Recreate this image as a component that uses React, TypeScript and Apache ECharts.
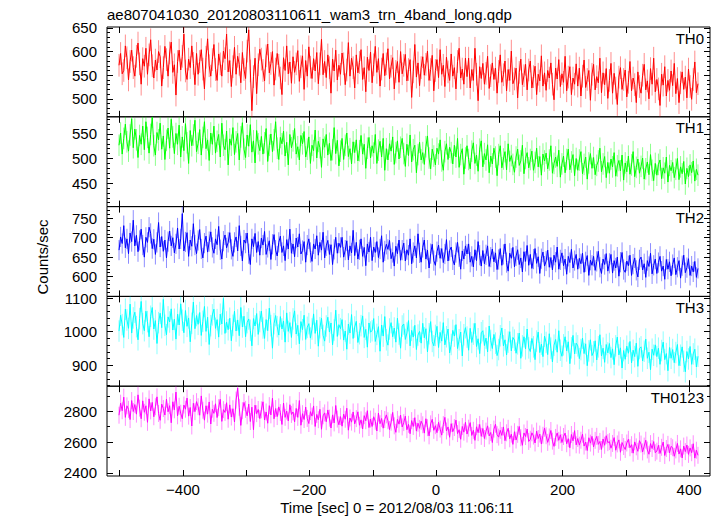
import React, { useEffect, useRef } from "react";
import * as echarts from "echarts";

const TITLE = "ae807041030_20120803110611_wam3_trn_4band_long.qdp";
const X_TITLE = "Time [sec] 0 = 2012/08/03 11:06:11";
const Y_TITLE = "Counts/sec";
const TIME_START = -501;
const TIME_BIN = 2.5;
const X_RANGE = [-520, 433];
const X_LABELS = [-400, -200, 0, 200, 400];
const X_TICKS = [-500, -400, -300, -200, -100, 0, 100, 200, 300, 400];

const BANDS = ["TH0", "TH1", "TH2", "TH3", "TH0123"];
const COLORS = ["#ff0000", "#00ff00", "#0000ff", "#00ffff", "#ff00ff"];
const ERRORS = [24, 22, 26, 32, 55];
const Y_RANGES = [[462, 652], [402, 585], [549, 780], [838, 1105], [2380, 2962]];
const Y_LABELS = [[500, 550, 600, 650], [450, 500, 550], [600, 650, 700, 750], [900, 1000, 1100], [2400, 2600, 2800]];
const Y_MINOR_STEPS = [10, 10, 10, 20, 100];

const th0 = [
  571, 596, 553, 560, 612, 587, 540, 579, 603, 566,
  548, 590, 618, 574, 531, 585, 569, 607, 552, 593,
  625, 570, 544, 582, 561, 600, 589, 527, 566, 611,
  583, 548, 597, 620, 556, 572, 508, 579, 603, 561,
  590, 637, 559, 541, 584, 566, 612, 575, 530, 596,
  552, 579, 604, 563, 521, 588, 627, 570, 548, 583,
  615, 562, 539, 595, 574, 548, 601, 585, 637, 557,
  581, 526, 568, 609, 552, 590, 573, 534, 598, 562,
  543, 601, 646, 559, 475, 547, 586, 511, 572, 605,
  584, 560, 538, 591, 616, 555, 575, 600, 529, 563,
  596, 571, 544, 509, 587, 560, 612, 553, 578, 533,
  589, 556, 574, 602, 537, 568, 591, 520, 581, 548,
  610, 567, 543, 585, 559, 598, 532, 574, 626, 551,
  579, 545, 593, 566, 512, 584, 559, 603, 540, 571,
  552, 597, 574, 530, 561, 619, 548, 586, 566, 523,
  593, 555, 577, 604, 541, 566, 515, 588, 560, 599,
  534, 572, 611, 556, 585, 527, 563, 596, 549, 574,
  606, 542, 569, 587, 521, 558, 579, 535, 600, 553,
  571, 594, 538, 562, 583, 503, 557, 615, 546, 576,
  528, 566, 589, 550, 573, 601, 539, 562, 592, 517,
  560, 583, 545, 604, 552, 571, 526, 588, 557, 539,
  595, 548, 566, 521, 579, 607, 544, 563, 531, 586,
  547, 586, 523, 562, 539, 607, 552, 496, 568, 543,
  575, 531, 554, 590, 522, 549, 576, 541, 565, 512,
  558, 593, 535, 551, 580, 517, 562, 539, 601, 532,
  542, 565, 502, 556, 584, 530, 549, 573, 519, 561,
  580, 523, 547, 569, 509, 552, 538, 591, 527, 555,
  518, 560, 544, 576, 531, 498, 565, 542, 583, 526,
  553, 535, 590, 517, 546, 568, 509, 544, 531, 574,
  527, 565, 506, 548, 582, 524, 541, 560, 497, 552,
  573, 519, 547, 534, 586, 513, 555, 530, 564, 501,
  539, 575, 512, 554, 523, 488, 546, 566, 520, 541,
  561, 504, 535, 579, 517, 544, 530, 492, 557, 526,
  512, 550, 573, 519, 538, 500, 564, 531, 586, 515,
  541, 521, 486, 552, 529, 568, 506, 539, 518, 559,
  528, 575, 511, 543, 492, 534, 557, 520, 546, 502,
  563, 526, 499, 541, 578, 513, 532,
];

const th1 = [
  527, 552, 509, 541, 570, 534, 515, 548, 581, 522,
  560, 538, 502, 547, 529, 566, 518, 575, 543, 511,
  549, 584, 526, 507, 553, 538, 572, 519, 546, 498,
  537, 562, 521, 580, 544, 510, 551, 529, 568, 503,
  544, 516, 571, 532, 490, 557, 526, 548, 578, 514,
  531, 559, 507, 543, 575, 520, 538, 496, 552, 529,
  566, 511, 535, 549, 503, 572, 527, 518, 556, 487,
  540, 527, 563, 508, 534, 551, 497, 544, 573, 519,
  502, 548, 525, 569, 513, 536, 491, 557, 530, 516,
  545, 509, 532, 561, 494, 527, 550, 514, 538, 575,
  521, 498, 543, 530, 556, 505, 533, 487, 549, 522,
  536, 561, 509, 524, 497, 547, 530, 555, 503, 519,
  544, 490, 527, 516, 558, 501, 535, 522, 482, 540,
  523, 549, 507, 531, 496, 518, 563, 510, 537, 485,
  515, 541, 498, 527, 552, 504, 520, 489, 534, 512,
  538, 495, 516, 547, 509, 529, 480, 521, 543, 501,
  526, 511, 549, 490, 517, 535, 503, 541, 476, 520,
  497, 530, 515, 544, 488, 512, 536, 499, 523, 541,
  510, 484, 529, 506, 548, 493, 518, 527, 471, 508,
  533, 497, 512, 488, 524, 546, 501, 479, 519, 505,
  487, 521, 509, 538, 495, 476, 514, 530, 498, 523,
  512, 489, 527, 503, 541, 482, 508, 520, 468, 501,
  526, 498, 479, 515, 532, 490, 507, 474, 519, 536,
  483, 510, 497, 528, 471, 505, 489, 521, 503, 465,
  508, 526, 481, 499, 514, 477, 530, 494, 506, 488,
  472, 503, 519, 486, 495, 527, 469, 500, 512, 481,
  498, 515, 476, 492, 521, 483, 504, 466, 509, 495,
  511, 479, 497, 526, 470, 490, 503, 484, 517, 462,
  489, 505, 471, 498, 519, 477, 493, 508, 465, 500,
  476, 497, 514, 469, 488, 503, 458, 491, 510, 480,
  502, 467, 486, 495, 521, 473, 489, 504, 461, 492,
  470, 499, 483, 512, 464, 485, 496, 475, 507, 456,
  491, 473, 505, 468, 487, 514, 463, 482, 499, 470,
  484, 501, 458, 479, 493, 467, 508, 476, 455, 490,
  466, 488, 497, 459, 481, 470, 503, 452, 486, 475,
  492, 461, 478, 500, 457, 483, 469, 494, 448, 480,
  463, 487, 471, 495, 454, 478, 466,
];

const th2 = [
  668, 702, 685, 731, 674, 697, 659, 712, 690, 745,
  679, 706, 664, 693, 722, 681, 650, 701, 688, 727,
  711, 672, 696, 657, 688, 739, 676, 703, 665, 694,
  648, 690, 717, 679, 700, 661, 684, 725, 671, 697,
  762, 666, 689, 713, 652, 694, 678, 736, 681, 659,
  693, 721, 671, 648, 686, 704, 663, 690, 715, 675,
  660, 697, 682, 729, 669, 645, 691, 707, 674, 688,
  713, 670, 652, 688, 702, 666, 731, 679, 640, 694,
  686, 712, 659, 631, 697, 677, 711, 662, 690, 655,
  699, 681, 716, 657, 675, 692, 644, 683, 708, 668,
  653, 688, 704, 662, 679, 641, 695, 671, 722, 660,
  684, 651, 699, 676, 710, 658, 667, 690, 637, 681,
  697, 662, 639, 684, 671, 705, 655, 688, 668, 714,
  648, 679, 693, 657, 682, 631, 670, 701, 660, 686,
  675, 701, 650, 668, 692, 643, 679, 661, 719, 654,
  688, 645, 669, 697, 652, 675, 628, 684, 663, 701,
  641, 676, 662, 690, 649, 671, 705, 637, 666, 683,
  670, 693, 646, 662, 627, 678, 659, 694, 642, 668,
  686, 640, 669, 655, 697, 633, 662, 679, 648, 710,
  661, 637, 675, 694, 645, 668, 622, 659, 683, 641,
  629, 664, 681, 647, 672, 636, 658, 695, 640, 667,
  676, 643, 630, 662, 688, 651, 619, 666, 645, 679,
  658, 684, 637, 652, 625, 669, 641, 690, 655, 627,
  667, 633, 656, 679, 626, 650, 671, 638, 661, 618,
  644, 672, 629, 657, 684, 636, 614, 660, 647, 675,
  625, 653, 669, 631, 648, 612, 664, 639, 680, 629,
  657, 621, 645, 672, 634, 651, 608, 646, 663, 627,
  640, 668, 624, 649, 617, 655, 637, 676, 619, 643,
  661, 628, 645, 606, 652, 636, 670, 622, 641, 657,
  619, 647, 633, 660, 611, 638, 654, 603, 642, 629,
  652, 616, 639, 665, 624, 608, 645, 631, 659, 614,
  634, 657, 609, 641, 622, 650, 601, 637, 662, 618,
  611, 640, 628, 655, 603, 632, 648, 616, 599, 643,
  650, 617, 633, 598, 641, 626, 660, 607, 629, 645,
  608, 636, 652, 614, 627, 593, 644, 619, 638, 602,
  631, 648, 605, 624, 641, 596, 628, 655, 610, 623,
  646, 603, 627, 612, 639, 598, 621,
];

const th3 = [
  1002, 1049, 1021, 983, 1067, 1035, 1010, 1082, 996, 1041,
  1058, 1015, 976, 1039, 1090, 1024, 1003, 1061, 1030, 985,
  1046, 1072, 1008, 1033, 965, 1027, 1055, 1012, 1096, 1019,
  991, 1044, 1029, 1068, 1005, 1037, 978, 1052, 1020, 1083,
  1034, 997, 1063, 1016, 1041, 970, 1025, 1088, 1009, 1048,
  1022, 1057, 989, 1031, 1075, 1001, 1043, 962, 1018, 1050,
  1067, 1010, 1036, 984, 1052, 1023, 1099, 995, 1029, 1006,
  1040, 973, 1019, 1061, 1002, 1035, 988, 1072, 1014, 1046,
  985, 1027, 1038, 1004, 958, 1039, 1017, 1054, 992, 1030,
  1061, 1011, 980, 1036, 1003, 1070, 1018, 951, 1024, 1048,
  1015, 990, 1045, 1008, 1032, 969, 1056, 1001, 1027, 983,
  1038, 1062, 993, 1019, 964, 1030, 1006, 1049, 977, 1013,
  1024, 981, 1008, 1053, 995, 1034, 957, 1012, 1040, 989,
  972, 1017, 1043, 999, 1026, 961, 1005, 1064, 986, 1021,
  1009, 1036, 975, 1002, 948, 1023, 996, 1051, 980, 1014,
  1031, 968, 994, 1018, 1047, 983, 1007, 954, 1026, 999,
  1003, 1039, 971, 992, 1015, 942, 1020, 987, 1045, 976,
  960, 1008, 1027, 985, 1011, 969, 1040, 993, 951, 1017,
  1023, 977, 996, 1033, 958, 1004, 984, 1019, 947, 990,
  1001, 966, 1025, 982, 1009, 940, 994, 1030, 971, 958,
  989, 1016, 953, 998, 972, 1027, 961, 985, 1008, 937,
  962, 1004, 987, 1021, 950, 976, 999, 928, 991, 1012,
  984, 945, 1010, 968, 993, 1025, 956, 979, 935, 997,
  1003, 959, 981, 940, 1017, 974, 950, 992, 966, 929,
  947, 988, 1011, 958, 976, 931, 969, 1000, 943, 983,
  975, 936, 964, 996, 921, 958, 985, 949, 1008, 952,
  941, 980, 955, 917, 972, 999, 938, 963, 926, 987,
  968, 932, 994, 951, 910, 960, 977, 939, 1003, 945,
  927, 961, 985, 943, 970, 905, 952, 989, 934, 966,
  958, 920, 947, 981, 935, 964, 899, 943, 976, 929,
  940, 973, 916, 955, 991, 928, 951, 909, 962, 937,
  965, 923, 949, 902, 958, 984, 931, 952, 892, 944,
  918, 957, 936, 971, 907, 945, 926, 966, 897, 950,
  955, 913, 942, 978, 921, 939, 887, 948, 930, 961,
  926, 951, 903, 944, 969, 917, 935, 884, 953, 921,
  947, 908, 938, 962, 899, 930, 955, 912, 881, 941,
  919, 956, 903, 934, 948, 895, 927,
];

const th0123 = [
  2774, 2852, 2803, 2891, 2760, 2835, 2812, 2746, 2869, 2798,
  2843, 2781, 2906, 2820, 2751, 2867, 2793, 2835, 2728, 2880,
  2802, 2857, 2764, 2829, 2893, 2785, 2741, 2846, 2817, 2775,
  2878, 2796, 2836, 2725, 2861, 2809, 2924, 2770, 2832, 2787,
  2751, 2840, 2813, 2885, 2768, 2824, 2704, 2851, 2797, 2862,
  2829, 2774, 2899, 2806, 2742, 2835, 2781, 2860, 2717, 2813,
  2786, 2848, 2759, 2823, 2877, 2734, 2810, 2792, 2855, 2748,
  2841, 2762, 2816, 2730, 2872, 2950, 2825, 2708, 2803, 2857,
  2812, 2770, 2846, 2733, 2826, 2680, 2839, 2784, 2811, 2752,
  2809, 2861, 2743, 2795, 2722, 2836, 2776, 2884, 2751, 2817,
  2765, 2828, 2791, 2714, 2853, 2760, 2801, 2737, 2842, 2779,
  2795, 2731, 2818, 2760, 2869, 2709, 2784, 2746, 2827, 2753,
  2720, 2797, 2768, 2834, 2701, 2779, 2745, 2812, 2683, 2770,
  2789, 2732, 2808, 2755, 2691, 2776, 2724, 2837, 2749, 2712,
  2765, 2703, 2781, 2748, 2819, 2677, 2756, 2729, 2795, 2718,
  2752, 2796, 2709, 2744, 2685, 2771, 2738, 2803, 2694, 2749,
  2701, 2764, 2735, 2672, 2788, 2719, 2753, 2690, 2746, 2776,
  2738, 2681, 2729, 2792, 2705, 2663, 2747, 2716, 2775, 2698,
  2726, 2768, 2680, 2715, 2654, 2739, 2701, 2758, 2671, 2722,
  2689, 2735, 2712, 2658, 2751, 2693, 2640, 2718, 2747, 2676,
  2706, 2661, 2728, 2684, 2645, 2713, 2760, 2672, 2698, 2631,
  2719, 2667, 2694, 2742, 2655, 2680, 2618, 2701, 2664, 2728,
  2652, 2690, 2726, 2643, 2676, 2611, 2699, 2661, 2714, 2637,
  2688, 2623, 2671, 2705, 2640, 2662, 2597, 2684, 2715, 2648,
  2632, 2676, 2643, 2698, 2609, 2660, 2689, 2621, 2651, 2585,
  2667, 2613, 2650, 2701, 2628, 2579, 2659, 2636, 2684, 2604,
  2618, 2660, 2639, 2594, 2671, 2623, 2652, 2587, 2644, 2690,
  2641, 2598, 2633, 2675, 2606, 2572, 2630, 2659, 2611, 2647,
  2597, 2636, 2658, 2589, 2622, 2563, 2649, 2608, 2674, 2582,
  2623, 2580, 2612, 2651, 2574, 2600, 2545, 2628, 2593, 2637,
  2568, 2611, 2637, 2585, 2604, 2552, 2620, 2579, 2641, 2596,
  2603, 2560, 2591, 2629, 2547, 2588, 2614, 2534, 2597, 2571,
  2552, 2594, 2618, 2563, 2583, 2528, 2601, 2569, 2540, 2609,
  2587, 2536, 2574, 2612, 2549, 2521, 2590, 2558, 2603, 2531,
  2541, 2579, 2526, 2566, 2600, 2513, 2558, 2585, 2530, 2572,
  2563, 2508, 2549, 2591, 2522, 2556, 2497, 2574, 2538, 2581,
  2520, 2562, 2531, 2589, 2496, 2547, 2514,
];

const SERIES_VALUES = [th0, th1, th2, th3, th0123];

const FONT = '"Liberation Sans", Arial, Helvetica, sans-serif';
const PLOT_LEFT = 107;
const PLOT_RIGHT = 7;
const PLOT_TOP = 27;
const PANEL_H = 89.8;

function minorTicks(range: number[], step: number): number[] {
  const out: number[] = [];
  const start = Math.ceil(range[0] / step) * step;
  for (let v = start; v <= range[1]; v += step) out.push(v);
  return out;
}

const fmtX = (v: number) => String(v).replace("-", "\u2212");
const fmtY = (v: number) => String(v);

export default function App() {
  const ref = useRef<HTMLDivElement>(null);

  useEffect(() => {
    if (!ref.current) return;
    const chart = echarts.init(ref.current, undefined, { renderer: "svg" });

    const grids: any[] = [];
    const xAxes: any[] = [];
    const yAxes: any[] = [];
    const series: any[] = [];
    const graphics: any[] = [];

    BANDS.forEach((band, i) => {
      const top = PLOT_TOP + i * PANEL_H;
      grids.push({
        left: PLOT_LEFT,
        right: PLOT_RIGHT,
        top,
        height: PANEL_H,
        show: true,
        borderColor: "#000",
        borderWidth: 1,
        backgroundColor: "transparent",
      });
      ["bottom", "top"].forEach((pos) => {
        xAxes.push({
          type: "value",
          gridIndex: i,
          position: pos,
          min: X_RANGE[0],
          max: X_RANGE[1],
          axisLine: { show: false, onZero: false },
          splitLine: { show: false },
          axisTick: {
            show: true,
            inside: true,
            length: 6,
            customValues: X_TICKS,
            lineStyle: { color: "#000", width: 1 },
          },
          axisLabel: {
            show: pos === "bottom" && i === BANDS.length - 1,
            customValues: X_LABELS,
            formatter: fmtX,
            color: "#000",
            fontSize: 15,
            fontFamily: FONT,
            margin: 6,
          },
        });
      });
      const range = Y_RANGES[i];
      const minors = minorTicks(range, Y_MINOR_STEPS[i]).filter((v) => Y_LABELS[i].indexOf(v) < 0);
      ["left", "right"].forEach((pos) => {
        yAxes.push({
          type: "value",
          gridIndex: i,
          position: pos,
          min: range[0],
          max: range[1],
          axisLine: { show: false, onZero: false },
          splitLine: { show: false },
          axisTick: {
            show: true,
            inside: true,
            length: 6,
            customValues: Y_LABELS[i],
            lineStyle: { color: "#000", width: 1 },
          },
          axisLabel: {
            show: pos === "left",
            customValues: Y_LABELS[i],
            formatter: fmtY,
            color: "#000",
            fontSize: 15,
            fontFamily: FONT,
            margin: 10,
          },
        });
        yAxes.push({
          type: "value",
          gridIndex: i,
          position: pos,
          min: range[0],
          max: range[1],
          axisLine: { show: false, onZero: false },
          splitLine: { show: false },
          axisTick: {
            show: true,
            inside: true,
            length: 3,
            customValues: minors,
            lineStyle: { color: "#000", width: 1 },
          },
          axisLabel: { show: false },
        });
      });

      const values = SERIES_VALUES[i];
      const err = ERRORS[i];
      const color = COLORS[i];
      const times = values.map((_, k) => TIME_START + k * TIME_BIN);

      series.push({
        type: "custom",
        name: band + " err",
        xAxisIndex: 2 * i,
        yAxisIndex: 4 * i,
        clip: true,
        silent: true,
        encode: { x: 0, y: [1, 2] },
        data: values.map((v, k) => [times[k], v - err, v + err]),
        renderItem: (params: any, api: any) => {
          const p1 = api.coord([api.value(0), api.value(1)]);
          const p2 = api.coord([api.value(0), api.value(2)]);
          return {
            type: "line",
            shape: { x1: p1[0], y1: p1[1], x2: p2[0], y2: p2[1] },
            style: { stroke: color, lineWidth: 1, opacity: 0.45 },
          };
        },
      });
      series.push({
        type: "line",
        name: band,
        xAxisIndex: 2 * i,
        yAxisIndex: 4 * i,
        data: values.map((v, k) => [times[k], v]),
        showSymbol: false,
        symbol: "none",
        clip: true,
        silent: true,
        lineStyle: { color, width: 1 },
        itemStyle: { color },
      });

      graphics.push({
        type: "text",
        x: 704,
        y: top + 11,
        style: {
          text: band,
          fill: "#000",
          font: `15px ${FONT}`,
          align: "right",
          verticalAlign: "middle",
        },
      });
    });

    graphics.push({
      type: "text",
      x: PLOT_LEFT,
      y: 14,
      style: {
        text: TITLE,
        fill: "#000",
        font: `15px ${FONT}`,
        align: "left",
        verticalAlign: "middle",
      },
    });
    graphics.push({
      type: "text",
      x: 397,
      y: 507,
      style: {
        text: X_TITLE,
        fill: "#000",
        font: `15px ${FONT}`,
        align: "center",
        verticalAlign: "middle",
      },
    });
    graphics.push({
      type: "text",
      x: 42,
      y: 257,
      rotation: Math.PI / 2,
      style: {
        text: Y_TITLE,
        fill: "#000",
        font: `15px ${FONT}`,
        align: "center",
        verticalAlign: "middle",
      },
    });

    chart.setOption({
      animation: false,
      backgroundColor: "#fff",
      grid: grids,
      xAxis: xAxes,
      yAxis: yAxes,
      series,
      graphic: graphics,
    });

    return () => chart.dispose();
  }, []);

  return (
    <div
      ref={ref}
      style={{ position: "fixed", left: 0, top: 0, width: 717, height: 516 }}
    />
  );
}
